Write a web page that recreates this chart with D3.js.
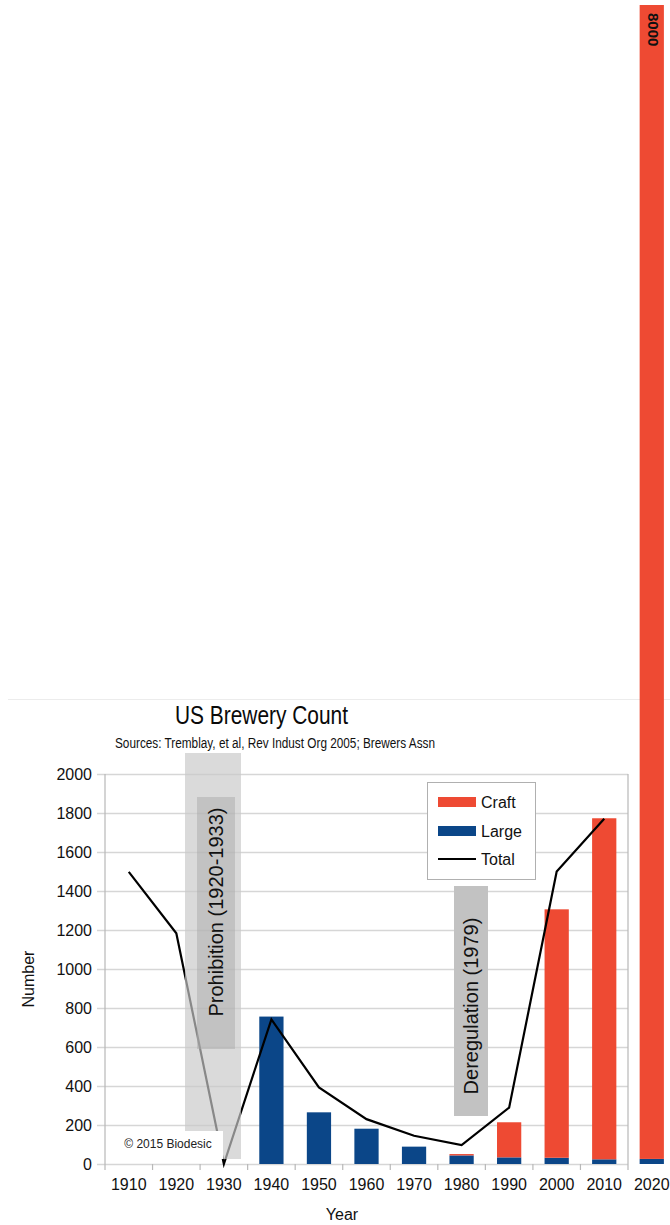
<!DOCTYPE html>
<html>
<head>
<meta charset="utf-8">
<script src="https://cdn.jsdelivr.net/npm/d3@7"></script>
<style>
  html, body { margin: 0; padding: 0; background: #fff; }
  svg { display: block; font-family: "Liberation Sans", Arial, sans-serif; }
</style>
</head>
<body>
<svg id="chart" width="670" height="1225"></svg>
<script>
// Decades shown on the category axis
const years = [1910, 1920, 1930, 1940, 1950, 1960, 1970, 1980, 1990, 2000, 2010, 2020];
// Brewery counts by type (null = no bar for that decade)
const largeCounts = [null, null, null, 756, 265, 181, 89, 44, 34, 32, 24, 35];
const craftCounts = [null, null, null, 0, 0, 0, 0, 7, 180, 1274, 1749, 7965];
// Total breweries, drawn as a line through 2010
const totalYears = [1910, 1920, 1930, 1940, 1950, 1960, 1970, 1980, 1990, 2000, 2010];
const totalCounts = [1498, 1183, 0, 742, 393, 230, 145, 97, 289, 1500, 1770];
// Value axis ticks
const yTicks = [0, 200, 400, 600, 800, 1000, 1200, 1400, 1600, 1800, 2000];
// The 2020 bar runs off the chart, labelled with its total
const bigYear = 2020;
const bigLabel = "8000";

const colors = { craft: "#ee4a33", large: "#0b4688", total: "#000" };

const svg = d3.select("#chart");
const plot = { left: 105, right: 628, top: 774, bottom: 1164 };
const nInPlot = years.length - 1;
const step = (plot.right - plot.left) / nInPlot;
const pad = 0.49;

const x = d3.scaleBand()
  .domain(years)
  .range([plot.left, plot.left + step * years.length])
  .paddingInner(pad)
  .paddingOuter(pad / 2);
const xCenter = d => x(d) + x.bandwidth() / 2;
const slotStart = d => x(d) - x.step() * pad / 2;

const y = d3.scaleLinear().domain([0, 2000]).range([plot.bottom, plot.top]);
// Separate scale for the tall 2020 bar, which leaves the plot
const yTall = d3.scaleLinear().domain([0, 8000]).range([plot.bottom, 5]);

// faint frame line above the chart
svg.append("line")
  .attr("x1", 8).attr("x2", 670).attr("y1", 699.5).attr("y2", 699.5)
  .attr("stroke", "#ececec").attr("stroke-width", 1);

// Title and subtitle
svg.append("text").attr("x", 175).attr("y", 724)
  .attr("font-size", 25).attr("fill", "#0a0a0a")
  .attr("textLength", 173).attr("lengthAdjust", "spacingAndGlyphs")
  .text("US Brewery Count");
svg.append("text").attr("x", 115).attr("y", 748)
  .attr("font-size", 14).attr("fill", "#111")
  .attr("textLength", 320).attr("lengthAdjust", "spacingAndGlyphs")
  .text("Sources: Tremblay, et al, Rev Indust Org 2005; Brewers Assn");

// Horizontal gridlines with left ticks
const yAxis = d3.axisLeft(y).tickValues(yTicks).tickFormat(d3.format("d")).tickSize(8).tickPadding(5);
const gy = svg.append("g").attr("transform", `translate(${plot.left},0)`).call(yAxis);
gy.select(".domain").remove();
gy.selectAll(".tick line").attr("stroke", "#d6d6d6").attr("stroke-width", 1.5)
  .attr("x2", plot.right - plot.left).attr("x1", -8);
gy.selectAll(".tick text").attr("font-size", 16).attr("fill", "#111")
  .attr("font-family", "Liberation Sans, Arial, sans-serif").attr("x", -13);

// Axis frame lines
svg.append("line").attr("x1", plot.left).attr("x2", plot.left)
  .attr("y1", plot.top).attr("y2", plot.bottom + 6).attr("stroke", "#b8b8b8").attr("stroke-width", 1.2);
svg.append("line").attr("x1", plot.right).attr("x2", plot.right)
  .attr("y1", plot.top).attr("y2", plot.bottom + 6).attr("stroke", "#b8b8b8").attr("stroke-width", 1.2);

// Category ticks at slot boundaries
const inPlot = years.filter(d => d !== bigYear);
svg.append("g").selectAll("line").data(inPlot.slice(1)).join("line")
  .attr("x1", d => slotStart(d)).attr("x2", d => slotStart(d))
  .attr("y1", plot.bottom).attr("y2", plot.bottom + 6)
  .attr("stroke", "#b8b8b8").attr("stroke-width", 1.2);

// Category labels
svg.append("g").selectAll("text").data(years).join("text")
  .attr("x", d => xCenter(d)).attr("y", 1190)
  .attr("text-anchor", "middle").attr("font-size", 16).attr("fill", "#111")
  .text(d => d);

// Axis titles
svg.append("text").attr("x", 342).attr("y", 1220)
  .attr("text-anchor", "middle").attr("font-size", 16).attr("fill", "#111").text("Year");
svg.append("text").attr("transform", "translate(34,979) rotate(-90)")
  .attr("text-anchor", "middle").attr("font-size", 16).attr("fill", "#111").text("Number");

// Stacked bars
const rows = years.map((yr, i) => ({ year: yr, large: largeCounts[i], craft: craftCounts[i] }))
  .filter(r => r.large !== null);
const scaleFor = r => r.year === bigYear ? yTall : y;

const bars = svg.append("g");
bars.selectAll("rect.large").data(rows).join("rect").attr("class", "large")
  .attr("x", d => x(d.year)).attr("width", x.bandwidth())
  .attr("y", d => scaleFor(d)(d.large))
  .attr("height", d => scaleFor(d)(0) - scaleFor(d)(d.large))
  .attr("fill", colors.large);
bars.selectAll("rect.craft").data(rows.filter(r => r.craft > 0)).join("rect").attr("class", "craft")
  .attr("x", d => x(d.year)).attr("width", x.bandwidth())
  .attr("y", d => scaleFor(d)(d.large + d.craft))
  .attr("height", d => scaleFor(d)(d.large) - scaleFor(d)(d.large + d.craft))
  .attr("fill", colors.craft);

// Value label on the tall bar
const bigIdx = years.indexOf(bigYear);
svg.append("text")
  .attr("transform", `translate(${xCenter(bigYear) + 1},${yTall(largeCounts[bigIdx] + craftCounts[bigIdx]) + 8}) rotate(90)`)
  .attr("dy", "0.35em").attr("font-size", 15).attr("font-weight", "bold").attr("fill", "#111")
  .text(bigLabel);

// Total line
const line = d3.line().x(d => xCenter(d[0])).y(d => y(d[1]));
svg.append("path").datum(totalYears.map((yr, i) => [yr, totalCounts[i]]))
  .attr("d", line).attr("fill", "none").attr("stroke", colors.total).attr("stroke-width", 2.2)
  .attr("stroke-linejoin", "miter");

// Prohibition band
svg.append("rect").attr("x", 185).attr("y", 753).attr("width", 56).attr("height", 406)
  .attr("fill", "rgb(200,200,200)").attr("fill-opacity", 0.68);
svg.append("rect").attr("x", 197).attr("y", 797).attr("width", 38).attr("height", 252)
  .attr("fill", "rgb(170,170,170)").attr("fill-opacity", 0.5);
svg.append("text").attr("transform", "translate(216,912) rotate(-90)")
  .attr("text-anchor", "middle").attr("dy", "0.35em").attr("font-size", 20).attr("fill", "#111")
  .text("Prohibition (1920-1933)");

// Copyright note
svg.append("rect").attr("x", 113).attr("y", 1131).attr("width", 110).attr("height", 28).attr("fill", "#fff");
svg.append("text").attr("x", 168).attr("y", 1148).attr("text-anchor", "middle")
  .attr("font-size", 12).attr("fill", "#222").text("© 2015 Biodesic");

// Deregulation band
svg.append("rect").attr("x", 454).attr("y", 886).attr("width", 34).attr("height", 230)
  .attr("fill", "#c2c2c2");
svg.append("text").attr("transform", "translate(471,1006) rotate(-90)")
  .attr("text-anchor", "middle").attr("dy", "0.35em").attr("font-size", 20).attr("fill", "#111")
  .text("Deregulation (1979)");

// Legend
const legend = svg.append("g");
legend.append("rect").attr("x", 427.5).attr("y", 782.5).attr("width", 108).attr("height", 97)
  .attr("fill", "#fff").attr("stroke", "#b0b0b0").attr("stroke-width", 1);
const legendItems = [
  { label: "Craft", type: "bar", color: colors.craft, cy: 802 },
  { label: "Large", type: "bar", color: colors.large, cy: 831 },
  { label: "Total", type: "line", color: colors.total, cy: 859 }
];
legendItems.forEach(it => {
  if (it.type === "bar") {
    legend.append("rect").attr("x", 438).attr("y", it.cy - 5).attr("width", 38).attr("height", 10).attr("fill", it.color);
  } else {
    legend.append("line").attr("x1", 438).attr("x2", 476).attr("y1", it.cy).attr("y2", it.cy)
      .attr("stroke", it.color).attr("stroke-width", 2);
  }
  legend.append("text").attr("x", 481).attr("y", it.cy).attr("dy", "0.35em")
    .attr("font-size", 16).attr("fill", "#111").text(it.label);
});
</script>
</body>
</html>
